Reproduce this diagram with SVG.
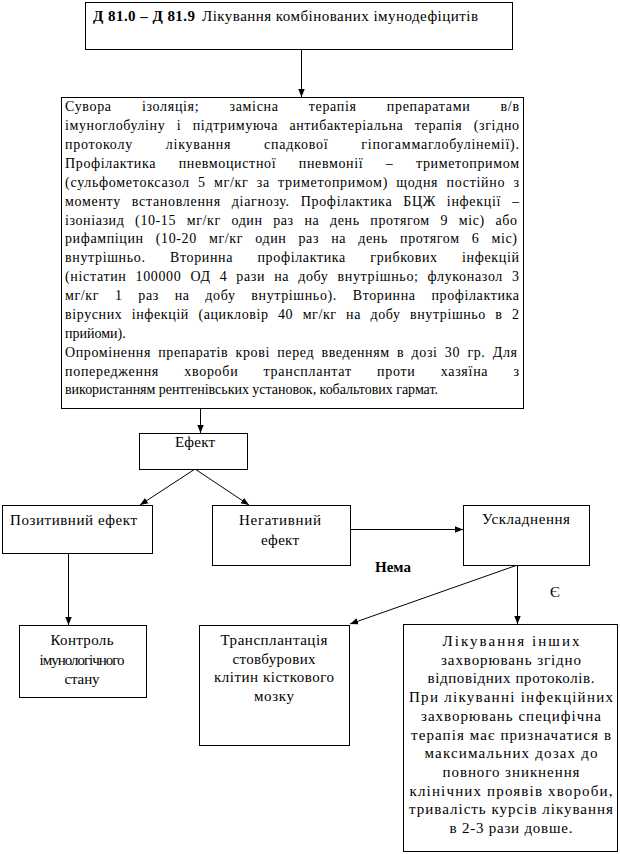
<svg xmlns="http://www.w3.org/2000/svg" width="620" height="854" viewBox="0 0 620 854">
<style>
rect.box{fill:#fff;stroke:#000;stroke-width:1}
text{font-family:"Liberation Serif","Times New Roman","Liberation Sans",sans-serif;fill:#000}
.t{font-size:14px}
.b{font-size:15px}
.c{text-anchor:middle}
.bold{font-weight:bold}
line.cn{stroke:#000;stroke-width:1;fill:none}
</style>
<defs>
<marker id="ah" markerUnits="userSpaceOnUse" markerWidth="8" markerHeight="8" viewBox="0 0 8 8" refX="8" refY="4" orient="auto">
<path d="M0,0.8 L8,4 L0,7.2 Z" fill="#000"/>
</marker>
</defs>
<rect width="620" height="854" fill="#fff"/>

<g id="connectors">
<line class="cn" x1="301.5" y1="49" x2="301.5" y2="97" marker-end="url(#ah)"/>
<line class="cn" x1="200.5" y1="408" x2="200.5" y2="433" marker-end="url(#ah)"/>
<line class="cn" x1="195" y1="469" x2="140" y2="505" marker-end="url(#ah)"/>
<line class="cn" x1="195" y1="469" x2="249" y2="505" marker-end="url(#ah)"/>
<line class="cn" x1="350" y1="529.5" x2="463" y2="529.5" marker-end="url(#ah)"/>
<line class="cn" x1="68.5" y1="553" x2="68.5" y2="625" marker-end="url(#ah)"/>
<line class="cn" x1="517.5" y1="565" x2="517.5" y2="624" marker-end="url(#ah)"/>
<line class="cn" x1="517.5" y1="565" x2="350" y2="624" marker-end="url(#ah)"/>
</g>

<g id="node-title">
<rect class="box" x="85.5" y="2.5" width="427" height="47"/>
<text class="b bold" x="93" y="21" textLength="102" lengthAdjust="spacing">Д 81.0 – Д 81.9</text>
<text class="b" x="202" y="21" textLength="276" lengthAdjust="spacing">Лікування комбінованих імунодефіцитів</text>
</g>

<g id="node-therapy">
<rect class="box" x="61.5" y="97.5" width="462" height="311"/>
<text class="t" x="65" y="111" word-spacing="26" textLength="454" lengthAdjust="spacing">Сувора ізоляція; замісна терапія препаратами в/в</text>
<text class="t" x="65" y="130" word-spacing="7.3" textLength="454" lengthAdjust="spacing">імуноглобуліну і підтримуюча антибактеріальна терапія (згідно</text>
<text class="t" x="65" y="149" word-spacing="28.7" textLength="454" lengthAdjust="spacing">протоколу лікування спадкової гіпогаммаглобулінемії).</text>
<text class="t" x="65" y="167.5" word-spacing="18.4" textLength="454" lengthAdjust="spacing">Профілактика пневмоцистної пневмонії – триметопримом</text>
<text class="t" x="65" y="186.5" word-spacing="4" textLength="454" lengthAdjust="spacing">(сульфометоксазол 5 мг/кг за триметопримом) щодня постійно з</text>
<text class="t" x="65" y="205.5" word-spacing="6.7" textLength="454" lengthAdjust="spacing">моменту встановлення діагнозу. Профілактика БЦЖ інфекції –</text>
<text class="t" x="65" y="224.5" word-spacing="6.6" textLength="452" lengthAdjust="spacing">ізоніазид (10-15 мг/кг один раз на день протягом 9 міс) або</text>
<text class="t" x="65" y="243" word-spacing="8" textLength="452" lengthAdjust="spacing">рифампіцин (10-20 мг/кг один раз на день протягом 6 міс)</text>
<text class="t" x="65" y="262" word-spacing="20.2" textLength="454" lengthAdjust="spacing">внутрішньо. Вторинна профілактика грибкових інфекцій</text>
<text class="t" x="65" y="281" word-spacing="4.8" textLength="454" lengthAdjust="spacing">(ністатин 100000 ОД 4 рази на добу внутрішньо; флуконазол 3</text>
<text class="t" x="65" y="300" word-spacing="11.6" textLength="454" lengthAdjust="spacing">мг/кг 1 раз на добу внутрішньо). Вторинна профілактика</text>
<text class="t" x="65" y="318.5" word-spacing="5.3" textLength="454" lengthAdjust="spacing">вірусних інфекцій (ацикловір 40 мг/кг на добу внутрішньо в 2</text>
<text class="t" x="65" y="337.5">прийоми).</text>
<text class="t" x="65" y="356.5" word-spacing="3.2" textLength="452" lengthAdjust="spacing">Опромінення препаратів крові перед введенням в дозі 30 гр. Для</text>
<text class="t" x="65" y="375.5" word-spacing="21" textLength="454" lengthAdjust="spacing">попередження хвороби трансплантат проти хазяїна з</text>
<text class="t" x="65" y="394" textLength="373" lengthAdjust="spacing">використанням рентгенівських установок, кобальтових гармат.</text>
</g>

<g id="node-effect">
<rect class="box" x="139.5" y="433.5" width="108" height="36"/>
<text class="b c" x="195" y="447" textLength="40" lengthAdjust="spacing">Ефект</text>
</g>

<g id="node-positive">
<rect class="box" x="2.5" y="505.5" width="150" height="48"/>
<text class="b" x="10" y="525" textLength="127" lengthAdjust="spacing">Позитивний ефект</text>
</g>

<g id="node-negative">
<rect class="box" x="212.5" y="505.5" width="138" height="60"/>
<text class="b c" x="280" y="525" textLength="82" lengthAdjust="spacing">Негативний</text>
<text class="b c" x="280" y="545" textLength="38" lengthAdjust="spacing">ефект</text>
</g>

<g id="node-complication">
<rect class="box" x="463.5" y="505.5" width="126" height="60"/>
<text class="b c" x="526" y="524" textLength="88" lengthAdjust="spacing">Ускладнення</text>
</g>

<text class="b bold" x="375" y="572">Нема</text>
<text class="b" x="550" y="597">Є</text>

<g id="node-control">
<rect class="box" x="19.5" y="625.5" width="127" height="72"/>
<text class="b c" x="82" y="645" textLength="63" lengthAdjust="spacing">Контроль</text>
<text class="b c" x="82" y="665" textLength="85" lengthAdjust="spacing">імунологічного</text>
<text class="b c" x="82" y="684" textLength="35" lengthAdjust="spacing">стану</text>
</g>

<g id="node-transplant">
<rect class="box" x="199.5" y="625.5" width="150" height="120"/>
<text class="b c" x="274" y="645" textLength="107" lengthAdjust="spacing">Трансплантація</text>
<text class="b c" x="274" y="664" textLength="83" lengthAdjust="spacing">стовбурових</text>
<text class="b c" x="274" y="682" textLength="120" lengthAdjust="spacing">клітин кісткового</text>
<text class="b c" x="274" y="701" textLength="40" lengthAdjust="spacing">мозку</text>
</g>

<g id="node-treatment">
<rect class="box" x="403.5" y="624.5" width="214" height="227"/>
<text class="b c" x="511" y="646" textLength="137" lengthAdjust="spacing">Лікування інших</text>
<text class="b c" x="511" y="664.5" textLength="140" lengthAdjust="spacing">захворювань згідно</text>
<text class="b c" x="511" y="683" textLength="167" lengthAdjust="spacing">відповідних протоколів.</text>
<text class="b c" x="511" y="702" textLength="204" lengthAdjust="spacing">При лікуванні інфекційних</text>
<text class="b c" x="511" y="720.5" textLength="180" lengthAdjust="spacing">захворювань специфічна</text>
<text class="b c" x="511" y="739.5" textLength="200" lengthAdjust="spacing">терапія має призначатися в</text>
<text class="b c" x="511" y="758" textLength="173" lengthAdjust="spacing">максимальних дозах до</text>
<text class="b c" x="511" y="777" textLength="137" lengthAdjust="spacing">повного зникнення</text>
<text class="b c" x="511" y="795.5" textLength="203" lengthAdjust="spacing">клінічних проявів хвороби,</text>
<text class="b c" x="511" y="814" textLength="204" lengthAdjust="spacing">тривалість курсів лікування</text>
<text class="b c" x="511" y="833" textLength="123" lengthAdjust="spacing">в 2-3 рази довше.</text>
</g>
</svg>
